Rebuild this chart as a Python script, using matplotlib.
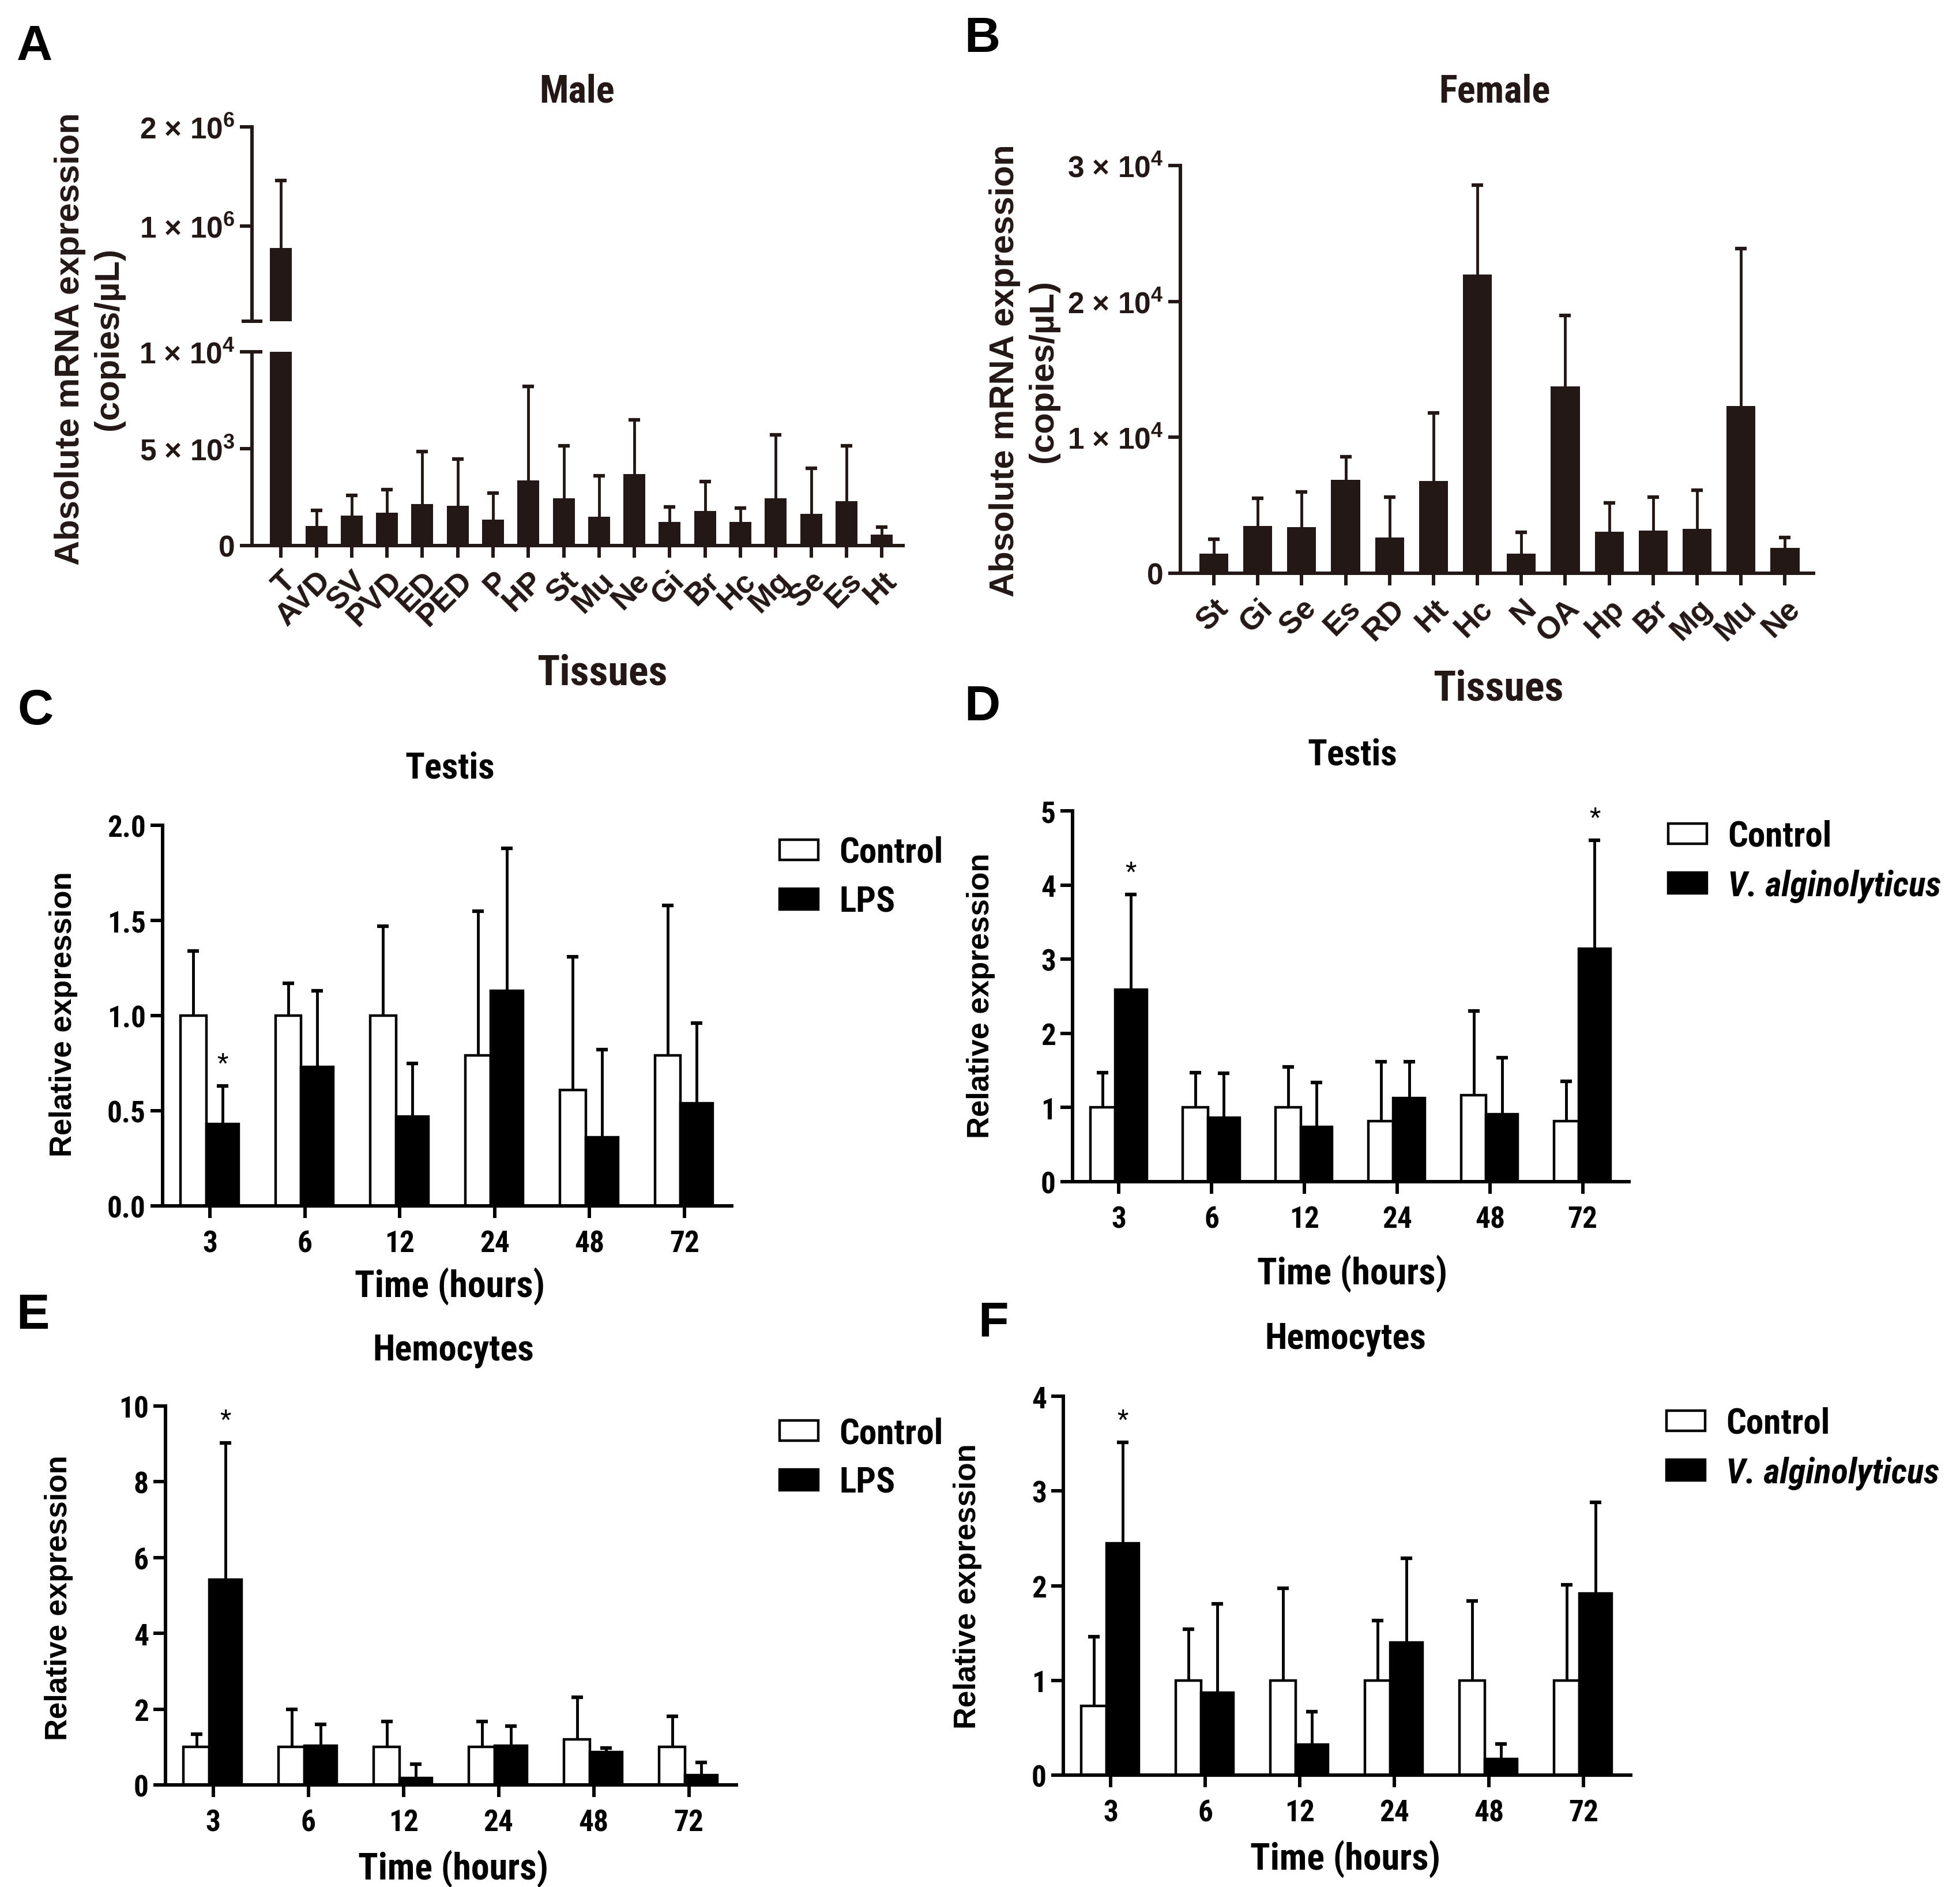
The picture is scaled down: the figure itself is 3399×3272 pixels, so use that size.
import numpy as np
import matplotlib
matplotlib.use("Agg")
from matplotlib import pyplot as plt
from matplotlib import font_manager

# ----------------------------------------------------------------------
# DATA
# ----------------------------------------------------------------------

male_tissues = ["T", "AVD", "SV", "PVD", "ED", "PED", "P", "HP", "St",
                "Mu", "Ne", "Gi", "Br", "Hc", "Mg", "Se", "Es", "Ht"]
male_mean = [780000, 1020, 1550, 1700, 2150, 2050, 1350, 3350, 2450,
             1500, 3700, 1230, 1800, 1230, 2450, 1650, 2300, 570]
male_sd = [680000, 800, 1050, 1200, 2700, 2400, 1350, 4850, 2700,
           2100, 2800, 770, 1500, 700, 3250, 2350, 2850, 380]

female_tissues = ["St", "Gi", "Se", "Es", "RD", "Ht", "Hc", "N", "OA",
                  "Hp", "Br", "Mg", "Mu", "Ne"]
female_mean = [1430, 3470, 3400, 6870, 2620, 6800, 21970, 1430, 13740,
               3060, 3130, 3270, 12310, 1870]
female_sd = [1070, 2030, 2600, 1700, 2960, 5000, 6600, 1600, 5240,
             2110, 2450, 2850, 11570, 750]

hours = ["3", "6", "12", "24", "48", "72"]

# C: testis, LPS challenge
testis_lps_ctrl = [1.0, 1.0, 1.0, 0.79, 0.61, 0.79]
testis_lps_ctrl_sd = [0.34, 0.17, 0.47, 0.76, 0.70, 0.79]
testis_lps = [0.43, 0.73, 0.47, 1.13, 0.36, 0.54]
testis_lps_sd = [0.20, 0.40, 0.28, 0.75, 0.46, 0.42]
testis_lps_stars = [0]

# D: testis, V. alginolyticus challenge
testis_vib_ctrl = [1.0, 1.0, 1.0, 0.82, 1.17, 0.82]
testis_vib_ctrl_sd = [0.47, 0.47, 0.55, 0.80, 1.13, 0.53]
testis_vib = [2.59, 0.86, 0.74, 1.13, 0.91, 3.14]
testis_vib_sd = [1.28, 0.60, 0.60, 0.49, 0.76, 1.46]
testis_vib_stars = [0, 5]

# E: hemocytes, LPS challenge
hemo_lps_ctrl = [1.0, 1.0, 1.0, 1.0, 1.2, 1.0]
hemo_lps_ctrl_sd = [0.34, 1.0, 0.68, 0.68, 1.11, 0.81]
hemo_lps = [5.42, 1.03, 0.19, 1.03, 0.87, 0.26]
hemo_lps_sd = [3.61, 0.57, 0.36, 0.52, 0.10, 0.33]
hemo_lps_stars = [0]

# F: hemocytes, V. alginolyticus challenge
hemo_vib_ctrl = [0.73, 1.0, 1.0, 1.0, 1.0, 1.0]
hemo_vib_ctrl_sd = [0.73, 0.54, 0.97, 0.63, 0.84, 1.01]
hemo_vib = [2.45, 0.87, 0.32, 1.40, 0.17, 1.92]
hemo_vib_sd = [1.06, 0.94, 0.35, 0.89, 0.16, 0.96]
hemo_vib_stars = [0]

# ----------------------------------------------------------------------
# STYLE
# ----------------------------------------------------------------------

W, H, DPI = 3399, 3273, 100
DARK = "#231815"

_installed = {f.name for f in font_manager.fontManager.ttflist}
NARROW = next((f for f in ["Liberation Sans Narrow", "Roboto Condensed",
                           "Liberation Sans"] if f in _installed), "DejaVu Sans")
WIDE = "Liberation Sans" if "Liberation Sans" in _installed else "DejaVu Sans"

plt.rcParams["mathtext.default"] = "regular"
plt.rcParams["font.family"] = NARROW
plt.rcParams["font.weight"] = "bold"

SPINE_LW = 4.3
EDGE_LW = 3.2
ELW = 3.5
CAP = 7
CAPTHICK = 4.5

fig = plt.figure(figsize=(W / DPI, H / DPI), dpi=DPI)


def px_axes(left, top, right, bottom):
    return fig.add_axes([left / W, 1 - bottom / H, (right - left) / W,
                         (bottom - top) / H])


def px_text(x, y, s, **kw):
    return fig.text(x / W, 1 - y / H, s, ha="center", va="center", **kw)


def style_axes(ax, color, tick_size, bottom=True, tick_family=None):
    for side in ("top", "right"):
        ax.spines[side].set_visible(False)
    ax.spines["left"].set_linewidth(SPINE_LW)
    ax.spines["bottom"].set_linewidth(SPINE_LW)
    ax.spines["left"].set_color(color)
    ax.spines["bottom"].set_color(color)
    ax.tick_params(direction="out", length=15, width=SPINE_LW, color=color,
                   labelsize=tick_size, labelcolor=color, pad=6)
    if tick_family:
        for lab in ax.get_yticklabels():
            lab.set_family(tick_family)
    if not bottom:
        ax.spines["bottom"].set_visible(False)
        ax.tick_params(axis="x", bottom=False, labelbottom=False)


def upper_errors(ax, x, mean, sd, color):
    eb = ax.errorbar(x, mean, yerr=[np.zeros(len(sd)), sd], fmt="none",
                     ecolor=color, elinewidth=ELW, capsize=CAP,
                     capthick=CAPTHICK, zorder=1)
    eb[1][0].set_visible(False)
    return eb


def sci(m, e):
    return f"{m} × 10$^{{{e}}}$"


# ----------------------------------------------------------------------
# A: male tissues, broken axis
# ----------------------------------------------------------------------

xa = np.arange(len(male_tissues))
ax_hi = px_axes(437, 221, 1566, 558)
ax_lo = px_axes(437, 611, 1566, 947)
for ax in (ax_hi, ax_lo):
    ax.bar(xa, male_mean, width=0.62, color=DARK, zorder=2)
    upper_errors(ax, xa, male_mean, male_sd, DARK)
    ax.set_xlim(-0.82, len(male_tissues) - 1 + 0.6)

ax_hi.set_ylim(4e4, 2e6)
ax_hi.set_yticks([1e6, 2e6], [sci(1, 6), sci(2, 6)])
style_axes(ax_hi, DARK, 37, bottom=False, tick_family=WIDE)
ax_lo.set_ylim(0, 1e4)
ax_lo.set_yticks([0, 5e3, 1e4], ["0", sci(5, 3), sci(1, 4)])
ax_lo.set_xticks(xa)
ax_lo.set_xticklabels(male_tissues, rotation=45, ha="right",
                      rotation_mode="anchor", fontsize=39, family=WIDE)
style_axes(ax_lo, DARK, 37, tick_family=WIDE)
ax_lo.tick_params(axis="x", labelsize=39, pad=10)
for ax, yb in ((ax_hi, 0), (ax_lo, 1)):
    ax.plot([0], [yb], marker="_", ms=26, mew=SPINE_LW, color=DARK,
            transform=ax.transAxes, clip_on=False)

px_text(1001, 160, "Male", fontsize=48, color=DARK)
px_text(1044, 1168, "Tissues", fontsize=52, color=DARK)
px_text(155, 588, "Absolute mRNA expression\n(copies/µL)", rotation=90,
        family=WIDE, fontsize=43, linespacing=1.3, color=DARK)
px_text(60, 82, "A", family=WIDE, fontsize=62)

# ----------------------------------------------------------------------
# B: female tissues
# ----------------------------------------------------------------------

xb = np.arange(len(female_tissues))
ax_b = px_axes(2047, 288, 3145, 995)
ax_b.bar(xb, female_mean, width=0.66, color=DARK, zorder=2)
upper_errors(ax_b, xb, female_mean, female_sd, DARK)
ax_b.set_xlim(-0.76, len(female_tissues) - 1 + 0.65)
ax_b.set_ylim(0, 3e4)
ax_b.set_yticks([0, 1e4, 2e4, 3e4], ["0", sci(1, 4), sci(2, 4), sci(3, 4)])
ax_b.set_xticks(xb)
ax_b.set_xticklabels(female_tissues, rotation=45, ha="right",
                     rotation_mode="anchor", fontsize=39, family=WIDE)
style_axes(ax_b, DARK, 37, tick_family=WIDE)
ax_b.tick_params(axis="x", labelsize=39, pad=10)

px_text(2592, 160, "Female", fontsize=48, color=DARK)
px_text(2598, 1195, "Tissues", fontsize=52, color=DARK)
px_text(1776, 643, "Absolute mRNA expression\n(copies/µL)", rotation=90,
        family=WIDE, fontsize=43, linespacing=1.3, color=DARK)
px_text(1703, 68, "B", family=WIDE, fontsize=62)


# ----------------------------------------------------------------------
# C-F: time courses
# ----------------------------------------------------------------------

def time_panel(rect, ctrl, ctrl_sd, trt, trt_sd, stars, ymax, yticks,
               ylabels, trt_label, legend_xy):
    ax = px_axes(*rect)
    x = np.arange(len(hours))
    # white bars are a bit narrower than the filled ones in the original
    w_ctrl, w_trt, shift = 0.27, 0.34, -0.04
    x_ctrl = x + shift - w_ctrl / 2
    x_trt = x + shift + w_trt / 2
    ax.bar(x_ctrl, ctrl, width=w_ctrl, color="white", edgecolor="black",
           linewidth=EDGE_LW, label="Control", zorder=2)
    ax.bar(x_trt, trt, width=w_trt, color="black", edgecolor="black",
           linewidth=EDGE_LW, label=trt_label, zorder=2)
    upper_errors(ax, x_ctrl, ctrl, ctrl_sd, "black")
    upper_errors(ax, x_trt, trt, trt_sd, "black")
    for i in stars:
        ax.annotate("*", (x_trt[i], trt[i] + trt_sd[i]),
                    xytext=(0, 28), textcoords="offset points",
                    ha="center", va="center", fontsize=32,
                    fontweight="normal", annotation_clip=False)
    ax.set_xlim(-0.5, len(hours) - 0.5)
    ax.set_ylim(0, ymax)
    style_axes(ax, "black", 37)
    ax.set_yticks(yticks, ylabels)
    ax.set_xticks(x, hours)
    ax.tick_params(axis="x", pad=14)
    leg = ax.legend(loc="upper left", frameon=False, fontsize=44,
                    bbox_to_anchor=(legend_xy[0] / W, 1 - legend_xy[1] / H),
                    bbox_transform=fig.transFigure, borderpad=0,
                    borderaxespad=0, handlelength=1.09, handleheight=0.52,
                    handletextpad=0.6, labelspacing=0.45)
    for patch in leg.get_patches():
        patch.set_linewidth(EDGE_LW)
    if trt_label.startswith("V."):
        leg.get_texts()[1].set_fontstyle("italic")
    return ax


time_panel((282, 1432, 1269, 2092), testis_lps_ctrl, testis_lps_ctrl_sd,
           testis_lps, testis_lps_sd, testis_lps_stars, 2.0,
           [0, 0.5, 1.0, 1.5, 2.0], ["0.0", "0.5", "1.0", "1.5", "2.0"],
           "LPS", (1352, 1450))
px_text(780, 1333, "Testis", fontsize=45)
px_text(780, 2230, "Time (hours)", fontsize=46)
px_text(110, 1759, "Relative expression", rotation=90, family=WIDE,
        fontsize=38)
px_text(62, 1234, "C", family=WIDE, fontsize=62)

time_panel((1860, 1407, 2825, 2050), testis_vib_ctrl, testis_vib_ctrl_sd,
           testis_vib, testis_vib_sd, testis_vib_stars, 5,
           [0, 1, 2, 3, 4, 5], ["0", "1", "2", "3", "4", "5"],
           "V. alginolyticus", (2893, 1422))
px_text(2345, 1310, "Testis", fontsize=45)
px_text(2345, 2208, "Time (hours)", fontsize=46)
px_text(1701, 1727, "Relative expression", rotation=90, family=WIDE,
        fontsize=38)
px_text(1703, 1227, "D", family=WIDE, fontsize=62)

time_panel((287, 2439, 1277, 3096), hemo_lps_ctrl, hemo_lps_ctrl_sd,
           hemo_lps, hemo_lps_sd, hemo_lps_stars, 10,
           [0, 2, 4, 6, 8, 10], ["0", "2", "4", "6", "8", "10"],
           "LPS", (1352, 2457))
px_text(786, 2342, "Hemocytes", fontsize=45)
px_text(786, 3240, "Time (hours)", fontsize=46)
px_text(102, 2771, "Relative expression", rotation=90, family=WIDE,
        fontsize=38)
px_text(57, 2282, "E", family=WIDE, fontsize=62)

time_panel((1844, 2422, 2828, 3079), hemo_vib_ctrl, hemo_vib_ctrl_sd,
           hemo_vib, hemo_vib_sd, hemo_vib_stars, 4,
           [0, 1, 2, 3, 4], ["0", "1", "2", "3", "4"],
           "V. alginolyticus", (2890, 2440))
px_text(2333, 2322, "Hemocytes", fontsize=45)
px_text(2333, 3223, "Time (hours)", fontsize=46)
px_text(1678, 2751, "Relative expression", rotation=90, family=WIDE,
        fontsize=38)
px_text(1723, 2296, "F", family=WIDE, fontsize=62)

fig.savefig("out.png", dpi=DPI)
